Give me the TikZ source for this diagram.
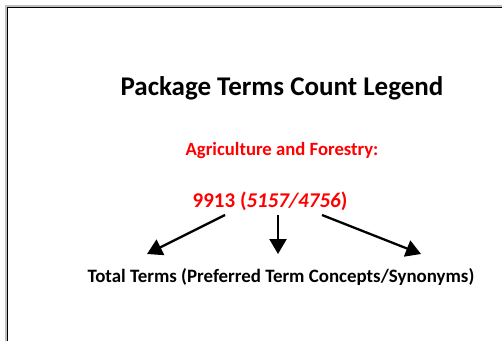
\documentclass[tikz,border=0pt]{standalone}
\usepackage{fontspec}
\setmainfont{Carlito}
\usetikzlibrary{arrows.meta}
\begin{document}
\begin{tikzpicture}[x=1pt,y=-1pt,
  lbl/.style={font=\bfseries, inner sep=0pt, anchor=center},
  arr/.style={line width=2.3pt, -{Triangle[length=15pt,width=17pt]}}]
\useasboundingbox (0,0) rectangle (502,341);
\draw[line width=2pt, gray!50] (6,341) -- (6,6) -- (502,6);
\draw[line width=1.6pt] (7.5,341) -- (7.5,7.5) -- (502,7.5);
\node[lbl, font=\bfseries\fontsize{27}{32}\selectfont] (title) at (282,88) {Package Terms Count Legend};
\node[lbl, text=red, font=\bfseries\fontsize{18.7}{22}\selectfont] (cat) at (282,151) {Agriculture and Forestry:};
\node[lbl, text=red, font=\bfseries\fontsize{21}{25}\selectfont] (num) at (270,201) {9913 (\textit{5157/4756})};
\node[lbl, font=\bfseries\fontsize{18.9}{22}\selectfont] (tot) at (281,277) {Total Terms (Preferred Term Concepts/Synonyms)};
\coordinate (a1) at (225,215); \coordinate (b1) at (147,254);
\coordinate (a2) at (278,215); \coordinate (b2) at (278,254);
\coordinate (a3) at (322,215); \coordinate (b3) at (421,254);
\draw[arr] (a1) -- (b1);
\draw[arr] (a2) -- (b2);
\draw[arr] (a3) -- (b3);
\end{tikzpicture}
\end{document}
